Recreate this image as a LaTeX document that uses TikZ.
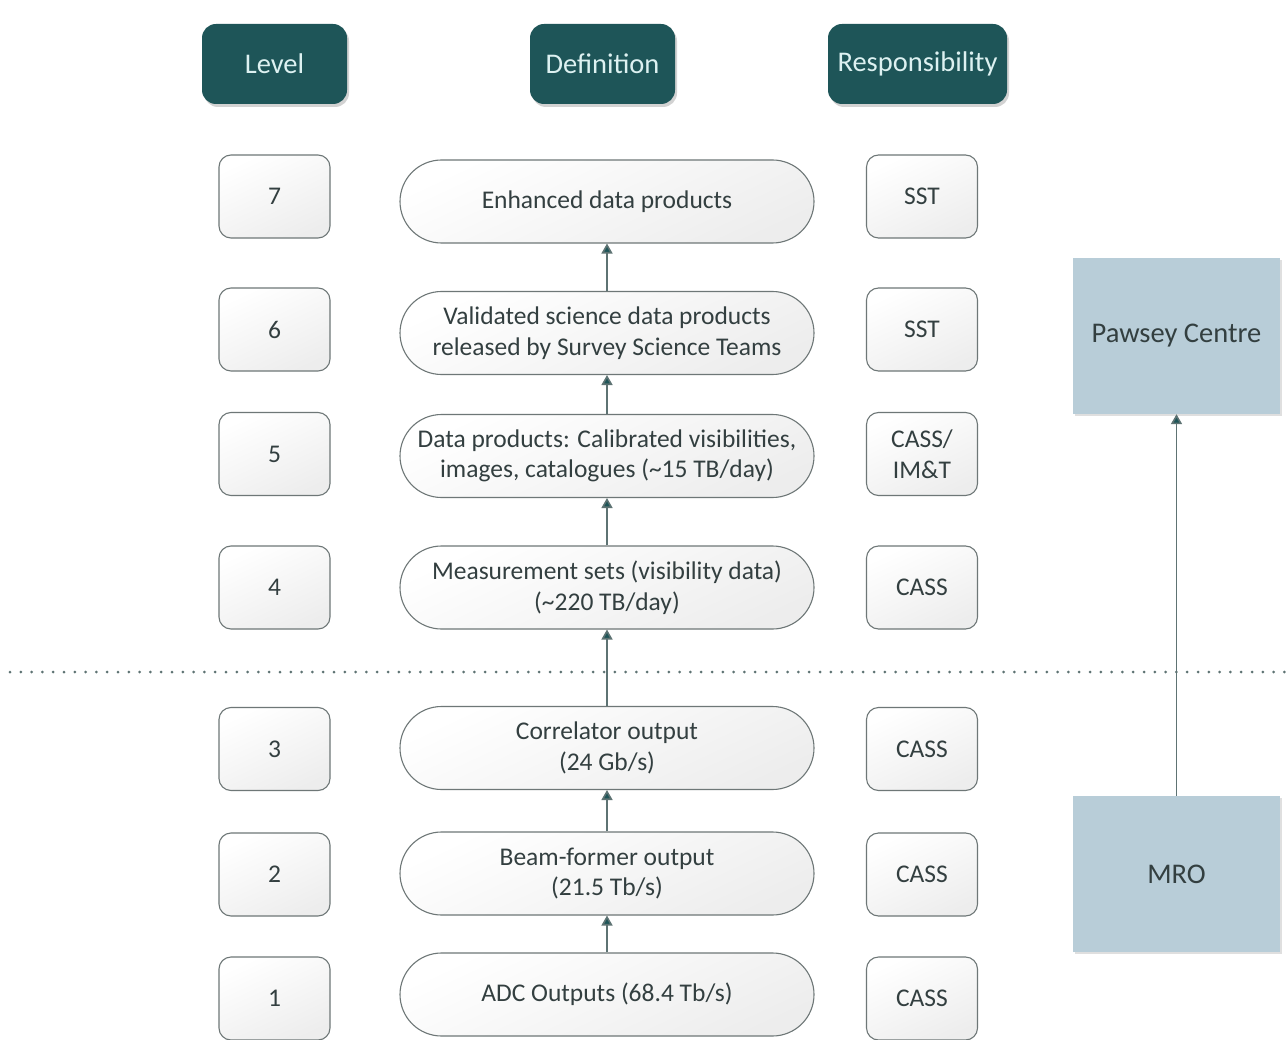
\documentclass[tikz,border=0pt]{standalone}
\usepackage{fontspec}
\setmainfont{Carlito}
\usetikzlibrary{arrows.meta,shadows,positioning}

\definecolor{teal}{HTML}{1E5558}
\definecolor{headtxt}{HTML}{DDF1F1}
\definecolor{boxline}{HTML}{6E7777}
\definecolor{txt}{HTML}{333F40}
\definecolor{site}{HTML}{B8CDD8}
\definecolor{linkline}{HTML}{5E7373}

\tikzset{
  every node/.style={font=\fontsize{25.5}{30.5}\selectfont, text=txt, align=center},
  header/.style={fill=teal, draw=none, rounded corners=14pt, minimum height=80pt,
    text=headtxt, font=\fontsize{28.5}{33}\selectfont,
    drop shadow={opacity=0.35, shadow xshift=2pt, shadow yshift=-3pt}},
  softfill/.style={top color=white, bottom color=black!7, shading angle=25},
  levelbox/.style={softfill, draw=boxline, line width=1.1pt, rounded corners=12pt,
    minimum width=111pt, minimum height=83pt},
  pill/.style={softfill, draw=boxline, line width=1.1pt, rounded corners=41.5pt,
    minimum width=414pt, minimum height=83pt, inner sep=0pt},
  sitebox/.style={fill=site, draw=none, minimum width=207pt, minimum height=156pt,
    font=\fontsize{28.5}{33}\selectfont,
    drop shadow={opacity=0.25, shadow xshift=2pt, shadow yshift=-2pt}},
  link/.style={draw=linkline, line width=1.6pt,
    -{Triangle[width=11pt,length=10pt,fill=teal]}}
}

\begin{document}
\begin{tikzpicture}[x=1pt,y=-1pt]
\useasboundingbox[fill=white] (0,0) rectangle (1287,1040);

% column headers
\node[header, minimum width=145pt] (hLevel) at (274.5,64) {Level};
\node[header, minimum width=145pt] (hDef)   at (602.5,64) {Definition};
\node[header, minimum width=179pt] (hResp)  at (917.5,64) {Responsibility};

% level numbers
\node[levelbox] (L7) at (274.5,196.5) {7};
\node[levelbox] (L6) at (274.5,329.5) {6};
\node[levelbox] (L5) at (274.5,454) {5};
\node[levelbox] (L4) at (274.5,587.5) {4};
\node[levelbox] (L3) at (274.5,749) {3};
\node[levelbox] (L2) at (274.5,874.5) {2};
\node[levelbox] (L1) at (274.5,998.5) {1};

% definitions
\node[pill] (D7) at (607,201.5) {Enhanced data products};
\node[pill] (D6) at (607,333) {Validated science data products\\released by Survey Science Teams};
\node[pill] (D5) at (607,456) {Data products: Calibrated visibilities,\\images, catalogues (\textasciitilde15 TB/day)};
\node[pill] (D4) at (607,587.5) {Measurement sets (visibility data)\\(\textasciitilde220 TB/day)};
\node[pill] (D3) at (607,748) {Correlator output\\(24 Gb/s)};
\node[pill] (D2) at (607,873.5) {Beam-former output\\(21.5 Tb/s)};
\node[pill] (D1) at (607,994.5) {ADC Outputs (68.4 Tb/s)};

% responsibilities
\node[levelbox] (R7) at (922,196.5) {SST};
\node[levelbox] (R6) at (922,329.5) {SST};
\node[levelbox] (R5) at (922,454) {CASS/\\IM\&T};
\node[levelbox] (R4) at (922,587.5) {CASS};
\node[levelbox] (R3) at (922,749) {CASS};
\node[levelbox] (R2) at (922,874.5) {CASS};
\node[levelbox] (R1) at (922,998.5) {CASS};

% sites
\node[sitebox] (pawsey) at (1176.5,336) {Pawsey Centre};
\node[sitebox] (mro)    at (1176.5,874) {MRO};

% boundary between the two sites
\coordinate (sepL) at (10,672);
\coordinate (sepR) at (1287,672);
\draw[line width=3pt, dash pattern=on 0pt off 10.8pt, line cap=round, color=linkline]
  (sepL) -- (sepR);

% data flow
\draw[link] (D1) -- (D2);
\draw[link] (D2) -- (D3);
\draw[link] (D3) -- (D4);
\draw[link] (D4) -- (D5);
\draw[link] (D5) -- (D6);
\draw[link] (D6) -- (D7);
\draw[link] (mro) -- (pawsey);
\end{tikzpicture}
\end{document}
